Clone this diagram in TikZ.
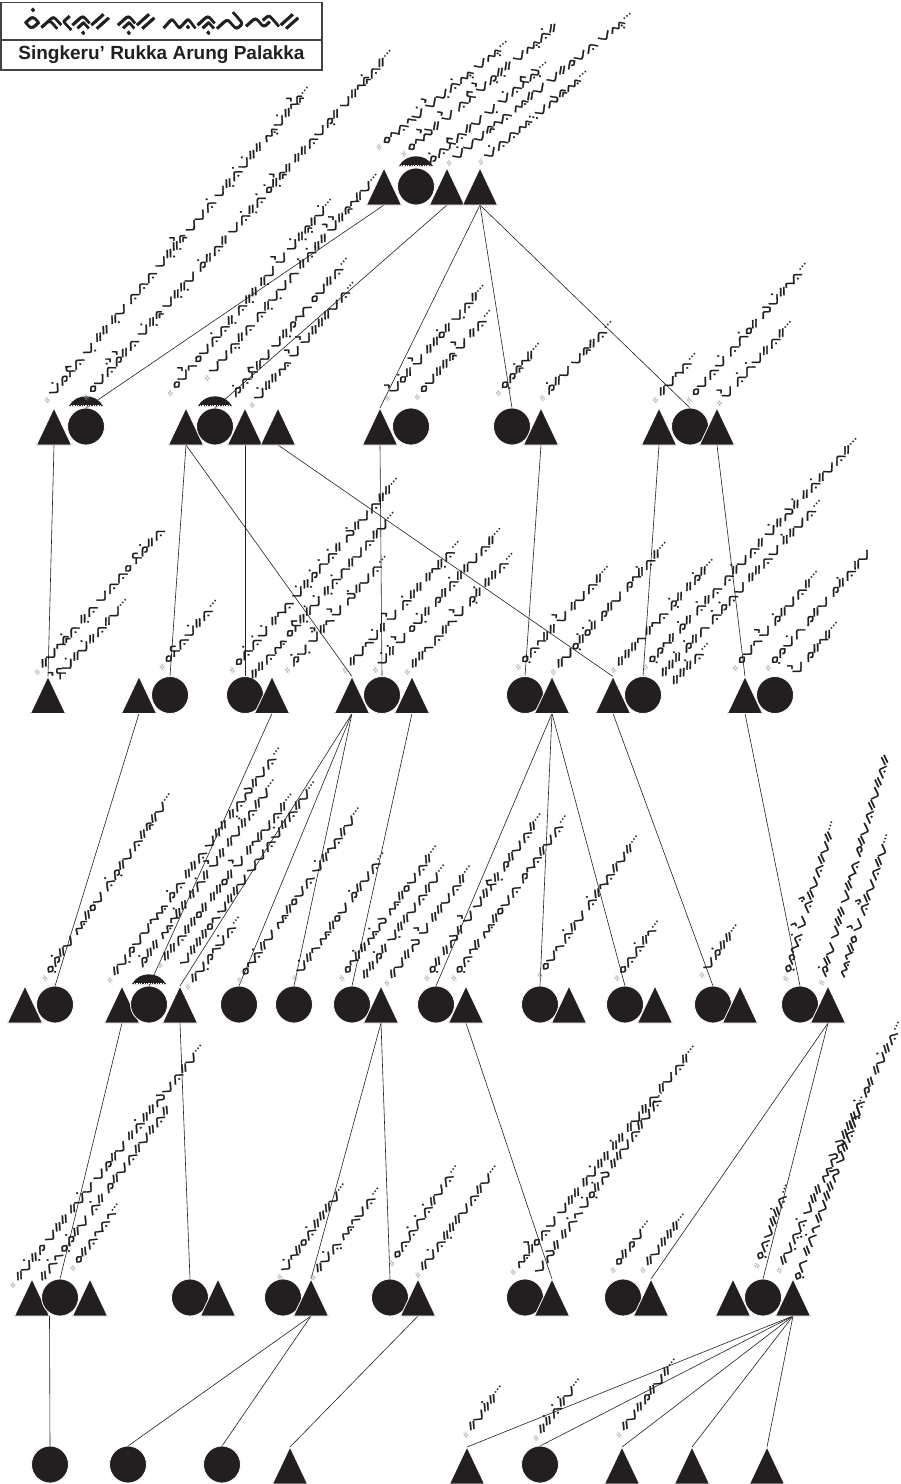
\documentclass[tikz,border=0pt]{standalone}
\usepackage{fontspec}
\setmainfont{Liberation Sans}
\IfFontExistsTF{Noto Sans Buginese}{\newfontfamily\bugfont[FakeBold=2]{Noto Sans Buginese}}{\newfontfamily\bugfont{DejaVu Sans}}
\usetikzlibrary{calc,backgrounds}
\definecolor{shp}{RGB}{35,31,32}
\newcommand\hs{{\normalfont\fontsize{9}{9}\selectfont\color{gray!75}\#}\hspace{4pt}}
\newcommand\el{{\normalfont\bfseries\fontsize{11}{11}\selectfont\raisebox{4pt}{…}}}
\newcommand\hatcap[1]{\fill[shp] ($(#1.north)+(-17,-2)$) .. controls ($(#1.north)+(-10,-15)$) and ($(#1.north)+(10,-15)$) .. ($(#1.north)+(17,-2)$) -- cycle;
  \draw[white,line width=0.7pt,dash pattern=on 1.2pt off 1.2pt] ($(#1.north)+(-15,-2.6)$) -- ($(#1.north)+(15,-2.6)$);}
\tikzset{
  tri/.style={rectangle,inner sep=0pt,outer sep=0pt,minimum width=35pt,minimum height=37pt,
    path picture={\fill[shp,draw=white,line width=0.8pt] (path picture bounding box.south west) -- (path picture bounding box.north) -- (path picture bounding box.south east) -- cycle;}},
  circ/.style={circle,inner sep=0pt,outer sep=0pt,minimum size=37pt,fill=shp,draw=white,line width=0.8pt},
  conn/.style={draw=shp,line width=0.6pt},
  lbl/.style={anchor=base west,inner sep=0pt,outer sep=0pt,text=shp,font=\bugfont\fontsize{14.5}{14.5}\selectfont},
  ttlbox/.style={draw=shp!85,line width=1.4pt,inner sep=0pt,minimum width=321pt,text=shp}
}
\begin{document}
\begin{tikzpicture}[x=1pt,y=-1pt]
\useasboundingbox (0,0) rectangle (901,1484);
% title
\node[ttlbox,minimum height=37.5pt,font=\bugfont\fontsize{28}{28}\selectfont] (ttla) at (161.5,21.25) {ᨔᨗᨃᨙᨑᨘᨀ ᨑᨘᨀ ᨕᨑᨘᨄᨒᨀ};
\node[ttlbox,minimum height=30pt,font=\bfseries\fontsize{19}{19}\selectfont] (ttlb) at (161.5,55) {Singkeru’ Rukka Arung Palakka};
% generation 0
\node[tri] (a0) at (384,186.5) {};
\node[circ] (b0) at (416,186.5) {};
\node[tri] (c0) at (447,186.5) {};
\node[tri] (d0) at (480,186.5) {};
% generation 1
\node[tri] (a1) at (54,426.5) {};
\node[circ] (b1) at (86,426.5) {};
\node[tri] (c1) at (186,426.5) {};
\node[circ] (d1) at (215,426.5) {};
\node[tri] (e1) at (245,426.5) {};
\node[tri] (f1) at (278,426.5) {};
\node[tri] (g1) at (380,426.5) {};
\node[circ] (h1) at (411,426.5) {};
\node[circ] (i1) at (512,426.5) {};
\node[tri] (j1) at (541,426.5) {};
\node[tri] (k1) at (659,426.5) {};
\node[circ] (l1) at (690,426.5) {};
\node[tri] (m1) at (717,426.5) {};
% generation 2
\node[tri] (a2) at (48,695) {};
\node[tri] (b2) at (139,695) {};
\node[circ] (c2) at (170,695) {};
\node[circ] (d2) at (245,695) {};
\node[tri] (e2) at (272,695) {};
\node[tri] (f2) at (352,695) {};
\node[circ] (g2) at (382,695) {};
\node[tri] (h2) at (412,695) {};
\node[circ] (i2) at (525,695) {};
\node[tri] (j2) at (552,695) {};
\node[tri] (k2) at (613,695) {};
\node[circ] (l2) at (643,695) {};
\node[tri] (m2) at (745,695) {};
\node[circ] (n2) at (775,695) {};
% generation 3
\node[tri] (a3) at (25,1004.5) {};
\node[circ] (b3) at (55,1004.5) {};
\node[tri] (c3) at (122,1004.5) {};
\node[circ] (d3) at (149,1004.5) {};
\node[tri] (e3) at (180,1004.5) {};
\node[circ] (f3) at (239,1004.5) {};
\node[circ] (g3) at (294,1004.5) {};
\node[circ] (h3) at (352,1004.5) {};
\node[tri] (i3) at (381,1004.5) {};
\node[circ] (j3) at (436,1004.5) {};
\node[tri] (k3) at (466,1004.5) {};
\node[circ] (l3) at (540,1004.5) {};
\node[tri] (m3) at (569,1004.5) {};
\node[circ] (n3) at (625,1004.5) {};
\node[tri] (o3) at (655,1004.5) {};
\node[circ] (p3) at (713,1004.5) {};
\node[tri] (q3) at (740,1004.5) {};
\node[circ] (r3) at (800,1004.5) {};
\node[tri] (s3) at (828,1004.5) {};
% generation 4
\node[tri] (a4) at (32,1297.5) {};
\node[circ] (b4) at (60,1297.5) {};
\node[tri] (c4) at (90,1297.5) {};
\node[circ] (d4) at (190,1297.5) {};
\node[tri] (e4) at (218,1297.5) {};
\node[circ] (f4) at (283,1297.5) {};
\node[tri] (g4) at (311,1297.5) {};
\node[circ] (h4) at (390,1297.5) {};
\node[tri] (i4) at (418,1297.5) {};
\node[circ] (j4) at (525,1297.5) {};
\node[tri] (k4) at (552,1297.5) {};
\node[circ] (l4) at (623,1297.5) {};
\node[tri] (m4) at (651,1297.5) {};
\node[tri] (n4) at (733,1297.5) {};
\node[circ] (o4) at (763,1297.5) {};
\node[tri] (p4) at (793,1297.5) {};
% generation 5
\node[circ] (a5) at (50,1464.5) {};
\node[circ] (b5) at (128,1464.5) {};
\node[circ] (c5) at (222,1464.5) {};
\node[tri] (d5) at (290,1465.5) {};
\node[tri] (e5) at (467,1465.5) {};
\node[circ] (f5) at (540,1464.5) {};
\node[tri] (g5) at (622,1465.5) {};
\node[tri] (h5) at (692,1465.5) {};
\node[tri] (i5) at (767,1465.5) {};
% caps
\hatcap{b0}\hatcap{b1}\hatcap{d1}\hatcap{d3}
% connectors
\begin{pgfonlayer}{background}
\fill[white] (0,0) rectangle (901,1484);
\draw[conn] (a0.south) -- (b1.north);
\draw[conn] (c0.south) -- (d1.north);
\draw[conn] (d0.south) -- (g1.north);
\draw[conn] (d0.south) -- (i1.north);
\draw[conn] (d0.south) -- (l1.north);
\draw[conn] (a1.south) -- (a2.north);
\draw[conn] (c1.south) -- (c2.north);
\draw[conn] (c1.south) -- (f2.north);
\draw[conn] (e1.south) -- (d2.north);
\draw[conn] (f1.south) -- (k2.north);
\draw[conn] (g1.south) -- (g2.north);
\draw[conn] (j1.south) -- (i2.north);
\draw[conn] (k1.south) -- (l2.north);
\draw[conn] (m1.south) -- (m2.north);
\draw[conn] (b2.south) -- (b3.north);
\draw[conn] (e2.south) -- (d3.north);
\draw[conn] (f2.south) -- (e3.north);
\draw[conn] (f2.south) -- (f3.north);
\draw[conn] (f2.south) -- (g3.north);
\draw[conn] (h2.south) -- (h3.north);
\draw[conn] (j2.south) -- (j3.north);
\draw[conn] (j2.south) -- (l3.north);
\draw[conn] (j2.south) -- (n3.north);
\draw[conn] (k2.south) -- (p3.north);
\draw[conn] (m2.south) -- (r3.north);
\draw[conn] (c3.south) -- (b4.north);
\draw[conn] (e3.south) -- (d4.north);
\draw[conn] (i3.south) -- (g4.north);
\draw[conn] (i3.south) -- (h4.north);
\draw[conn] (k3.south) -- (k4.north);
\draw[conn] (s3.south) -- (m4.north);
\draw[conn] (s3.south) -- (o4.north);
\draw[conn] (a4.south east) -- (a5.north);
\draw[conn] (g4.south) -- (b5.north);
\draw[conn] (g4.south) -- (c5.north);
\draw[conn] (i4.south) -- (d5.north);
\draw[conn] (p4.south) -- (e5.north);
\draw[conn] (p4.south) -- (f5.north);
\draw[conn] (p4.south) -- (g5.north);
\draw[conn] (p4.south) -- (h5.north);
\draw[conn] (p4.south) -- (i5.north);
\end{pgfonlayer}
% labels generation 0
\node[lbl,rotate=39] (t1) at (379,151) {\hs ᨔᨚᨊᨚᨆᨗ ᨆᨛᨆᨘᨊᨗᨕᨘ ᨆᨕᨘ\el};
\node[lbl,rotate=40] (t2) at (404,158) {\hs ᨔᨚᨄᨛᨀ ᨆᨛ ᨊᨅᨗ ᨆᨛᨍᨘᨀᨘᨀ ᨆᨕᨘᨊᨗᨀ};
\node[lbl,rotate=40] (t3) at (430,166) {ᨍᨗᨊᨅᨗᨊᨀᨆ ᨆᨘ ᨆᨗᨊᨅᨗᨁᨘ\el};
\node[lbl,rotate=39] (t4) at (449,167) {\hs ᨆᨗᨆᨆᨑᨚᨊ ᨕᨀᨆ ᨆᨀᨍᨆᨊ ᨆᨕᨘ\el};
\node[lbl,rotate=40] (t5) at (481,166) {\hs ᨆᨗᨊᨊᨕ᨞ᨆᨄᨑᨕ\el};
% generation 1
\node[lbl,rotate=50] (t6) at (48,404) {\hs ᨆᨗᨍᨅᨗᨊ ᨆᨘ ᨀᨀ ᨀᨘᨆ ᨊᨊᨊ ᨆᨀᨘᨀᨘᨑᨛ ᨆᨆᨊᨗ ᨆᨀᨘᨊᨗᨆᨗᨀᨀ ᨕᨘᨆᨗᨀᨚᨑᨛ\el};
\node[lbl,rotate=48.5] (t7) at (87,401) {\hs ᨔᨆᨊᨗᨍᨛᨀᨛᨊ ᨆᨗᨀᨘᨑ ᨆᨀᨘᨀᨘᨆ ᨍᨗᨀᨊᨀ ᨆᨊᨗᨀᨘᨊᨗ ᨔᨗᨀᨘᨑᨛᨀ ᨀᨀᨊᨆᨍᨘᨀ ᨆᨀᨚᨑᨗᨊᨀ\el};
\node[lbl,rotate=50] (t8) at (171,397) {\hs ᨔᨆᨚᨛ ᨔᨆᨊᨗᨊᨀᨘ ᨊᨀᨘᨀ ᨀᨘᨆ ᨆᨛ ᨆᨗᨀᨘᨑᨘᨀᨆᨗ\el};
\node[lbl,rotate=50] (t9) at (208,382) {\hs ᨆᨆᨊᨘᨀᨊ ᨊᨀᨘᨆᨘᨆᨈ ᨀᨗᨊᨗᨀᨀ ᨆᨛᨀᨛᨑᨚᨀᨆ\el};
\node[lbl,rotate=50] (t10) at (236,398) {ᨍᨗᨊᨅᨗᨀᨆ ᨆᨀᨘᨍᨚᨈ ᨔᨆᨀᨊ\el};
\node[lbl,rotate=50] (t11) at (253,409) {\hs ᨆᨗᨀᨀᨕ ᨆᨛ ᨆᨛᨀᨀᨀᨆᨊ\el};
\node[lbl,rotate=49] (t12) at (388,402) {\hs ᨆᨛᨔᨗᨀ ᨆᨛ ᨀᨀᨔᨗᨀ ᨆᨘᨊᨀ\el};
\node[lbl,rotate=49] (t13) at (418,401) {\hs ᨔᨆᨀᨀᨑ ᨆᨛ ᨀᨊ\el};
\node[lbl,rotate=49] (t14) at (499,397) {\hs ᨔᨘᨍᨑᨗᨚᨀ\el};
\node[lbl,rotate=47] (t15) at (543,402) {\hs ᨍᨗᨀᨆ ᨆᨑᨀᨊ\el};
\node[lbl,rotate=48] (t16) at (656,404) {\hs ᨀᨆᨚᨊ\el};
\node[lbl,rotate=49] (t17) at (690,404) {\hs ᨔᨆᨊᨆᨗ ᨊᨈᨗᨔᨀ ᨄᨆᨗᨀᨚᨊ\el};
\node[lbl,rotate=48] (t18) at (720,407) {\hs ᨆᨛ ᨊᨗᨈᨗᨆᨀᨊᨀ\el};
% generation 2
\node[lbl,rotate=48.6] (t19) at (38,676) {\hs ᨀᨆᨚᨑᨗᨊ ᨀᨘᨊ ᨆᨊᨊᨔ ᨅᨍᨗᨀᨊ};
\node[lbl,rotate=48] (t20) at (60,680) {ᨅᨛᨆᨗᨀᨆᨗᨀᨊᨀᨆ\el};
\node[lbl,rotate=50] (t21) at (163,671) {\hs ᨔᨅᨊᨆᨗᨀᨊ\el};
\node[lbl,rotate=49] (t22) at (233,674) {\hs ᨔᨊᨗᨊᨗᨆᨗ ᨀᨚᨊ ᨆᨗᨀᨘᨍᨗᨈᨗᨊᨗᨀ ᨄᨗᨀᨆᨊᨀᨀ\el};
\node[lbl,rotate=49] (t23) at (254,680) {ᨀᨀᨊᨕ ᨔᨅᨗᨀᨘᨀᨗᨆᨗ ᨀᨘᨊᨗᨈᨀᨆᨊᨀᨆ\el};
\node[lbl,rotate=48.6] (t24) at (288,674) {\hs ᨍᨗᨆᨘ ᨆᨗᨀᨛᨚ ᨆᨛ ᨄᨗᨀᨆᨊ\el};
\node[lbl,rotate=48] (t25) at (346,674) {\hs ᨀᨆᨚᨆᨗᨀ ᨆᨛ ᨊᨗᨀᨀ ᨀᨚᨀᨘᨊ\el};
\node[lbl,rotate=48] (t26) at (376,674) {\hs ᨆᨗᨀᨗ ᨆᨛ ᨔᨆᨘᨗᨀ ᨍᨀᨊᨗᨀᨀᨆᨊᨀ\el};
\node[lbl,rotate=48] (t27) at (408,676) {\hs ᨀᨀᨚ ᨊᨀᨚ ᨆᨛ ᨍᨘᨀᨗ ᨀᨀᨊ\el};
\node[lbl,rotate=47.5] (t28) at (519,671) {\hs ᨔᨘᨊᨚᨀᨀ ᨆᨛ ᨀᨆᨊᨀ\el};
\node[lbl,rotate=48.6] (t29) at (554,676) {\hs ᨀᨆᨔᨘᨀᨗᨔᨗᨀᨗ ᨍᨀᨆ ᨍᨚᨀᨗᨊᨀ\el};
\node[lbl,rotate=47.5] (t30) at (614,674) {\hs ᨀᨀᨀᨚ ᨀᨚᨊ ᨍᨘᨗᨀ ᨀᨍᨗᨀ\el};
\node[lbl,rotate=47] (t31) at (646,671) {\hs ᨔᨘᨍᨚᨀ ᨍᨗᨀ ᨊᨗᨀᨊ ᨊᨀᨗᨆᨊᨀ ᨆᨗᨀᨄᨀᨗ ᨀᨊᨗᨀᨆᨊᨀ\el};
\node[lbl,rotate=47.5] (t32) at (664,678) {ᨀᨀᨀᨗ ᨍᨗᨀᨈ ᨊᨗᨍᨗᨊᨆ ᨀᨀᨊᨆ ᨀᨗᨀᨆᨊ\el};
\node[lbl,rotate=47] (t33) at (675,686) {ᨀᨀᨀᨗᨊ\el};
\node[lbl,rotate=49] (t34) at (736,672) {\hs ᨔᨆᨚ ᨆᨛ ᨍᨗᨀᨆᨊᨀ\el};
\node[lbl,rotate=49] (t35) at (769,672) {\hs ᨔᨘᨍᨆᨗᨈ ᨍᨀᨆ ᨍᨀᨗᨊᨀᨆ};
\node[lbl,rotate=49] (t36) at (797,676) {ᨆᨛ ᨍᨀᨚᨀ\el};
% generation 3
\node[lbl,rotate=55.5] (t37) at (46,982) {\hs ᨔᨘᨍᨗᨀᨆ ᨕᨀᨔᨆ ᨊᨗᨍᨘᨀᨆᨊᨀᨑᨀᨆ\el};
\node[lbl,rotate=53.6] (t38) at (111,984) {\hs ᨀᨆᨘᨍᨆᨆᨚᨕ ᨍᨗᨊ ᨀᨀᨊ ᨆᨀᨀ ᨀᨘᨊᨄᨀᨆᨊ\el};
\node[lbl,rotate=54] (t39) at (143,968) {ᨍᨗᨀᨀ ᨕᨚᨀᨗᨀ ᨀᨈᨗᨀ ᨆᨛᨀ ᨀᨆᨀᨗᨊᨀᨆ\el};
\node[lbl,rotate=52] (t40) at (161,969) {\hs ᨀᨀᨊᨀᨀᨔᨀ ᨀᨀᨔᨀ ᨆᨛ ᨀᨚᨀᨆᨊᨀ\el};
\node[lbl,rotate=54] (t41) at (185,967) {ᨆᨀᨀᨀᨔᨚ ᨆᨀᨀᨆ ᨆᨆᨊᨆᨗᨀᨊᨀᨆ\el};
\node[lbl,rotate=53] (t42) at (189,991) {\hs ᨀᨆᨘᨍᨚᨆᨗᨊ\el};
\node[lbl,rotate=55] (t43) at (241,984) {\hs ᨔᨚᨊᨗᨀᨆ ᨕᨀᨔᨆᨊ ᨆᨗᨀᨚᨊᨀᨆ\el};
\node[lbl,rotate=54.3] (t44) at (296,982) {\hs ᨆᨗᨀᨚ ᨕᨀᨔᨆ ᨍᨗᨀᨆᨊ\el};
\node[lbl,rotate=54] (t45) at (343,982) {\hs ᨔᨚᨀᨗᨀᨕᨗᨄ ᨕᨀᨔᨆᨊᨀ\el};
\node[lbl,rotate=54] (t46) at (366,980) {ᨀᨀᨍᨗᨀ ᨆᨘᨀᨀᨆᨊᨀᨆ\el};
\node[lbl,rotate=54] (t47) at (388,987) {\hs ᨀᨆᨀᨄ ᨆᨛ ᨀᨀᨆᨊᨀ\el};
\node[lbl,rotate=55] (t48) at (428,982) {\hs ᨔᨘᨀ ᨀᨄᨀ ᨆᨛ ᨆᨀᨅᨗᨀᨘ ᨍᨀᨆᨊᨀ\el};
\node[lbl,rotate=55] (t49) at (455,982) {\hs ᨔᨘᨊᨚᨀ ᨕᨀᨔᨆᨊ ᨍᨚᨊᨀᨆᨊ\el};
\node[lbl,rotate=54.6] (t50) at (541,979) {\hs ᨔᨆᨚ ᨊᨗᨀᨆ ᨊᨗᨀᨚᨊᨀᨆᨀ\el};
\node[lbl,rotate=53] (t51) at (618,982) {\hs ᨔᨊᨊᨗᨀᨚ\el};
\node[lbl,rotate=54.3] (t52) at (703,979) {\hs ᨆᨍᨗᨀᨀ\el};
\node[lbl,rotate=73] (t53) at (788,982) {\hs ᨔᨘᨍᨚᨊᨗ ᨆᨛ ᨊᨗᨀᨛᨆᨊᨀᨆᨀ\el};
\node[lbl,rotate=74] (t54) at (824,986) {\hs ᨍᨗᨀᨆ ᨆᨀᨀ ᨆᨀᨚᨊ ᨍᨀᨆᨊᨀᨆᨀᨊᨀ};
\node[lbl,rotate=72] (t55) at (845,978) {ᨕᨚᨀᨔ ᨆᨛ ᨊᨗᨀᨛᨆᨊᨀᨆ\el};
% generation 4
\node[lbl,rotate=51.6] (t56) at (14,1289) {\hs ᨀᨆᨗᨀᨘᨍ ᨆᨀᨀ ᨀᨆᨗᨆ ᨆᨍᨀᨆ ᨀᨊᨗᨀᨀᨄᨆᨊᨀᨆ\el};
\node[lbl,rotate=53.6] (t57) at (44,1282) {ᨀᨈᨗᨚ ᨔᨘᨍᨗᨀᨆ ᨊᨗᨀ ᨍᨀᨆᨊᨀᨆᨀᨊᨀ};
\node[lbl,rotate=54] (t58) at (74,1272) {\hs ᨔᨀᨊᨚᨊᨚ\el};
\node[lbl,rotate=55] (t59) at (281,1281) {\hs ᨆᨗᨚᨀᨔᨊᨗᨀᨀᨀᨆ\el};
\node[lbl,rotate=53] (t60) at (314,1281) {\hs ᨀᨆᨗᨊᨘ ᨕᨚᨆᨊ\el};
\node[lbl,rotate=56] (t61) at (393,1267) {\hs ᨔᨊᨊᨗᨈᨗᨊᨗᨀᨆᨊ\el};
\node[lbl,rotate=54] (t62) at (419,1279) {\hs ᨀᨆᨗᨊᨀᨘᨀᨀᨆᨊᨀᨆ\el};
\node[lbl,rotate=51] (t63) at (514,1276) {\hs ᨕᨀᨔᨛᨊᨆ ᨆᨀᨀ ᨀᨆᨗᨀᨀ ᨀᨗᨀ ᨀᨆᨀᨊ ᨀᨆᨊᨀ\el};
\node[lbl,rotate=55] (t64) at (540,1275) {ᨆᨄᨀ ᨀᨈᨗᨚ ᨆᨗᨔᨘᨀᨗᨄ ᨀᨀᨆᨊᨀᨆᨊ\el};
\node[lbl,rotate=53] (t65) at (614,1274) {\hs ᨔᨀᨍᨆ\el};
\node[lbl,rotate=53] (t66) at (644,1274) {\hs ᨀᨆᨀᨀᨀ\el};
\node[lbl,rotate=69] (t67) at (759,1269) {\hs ᨔᨘᨊᨆᨀᨀᨗᨊ\el};
\node[lbl,rotate=64] (t68) at (781,1274) {\hs ᨀᨆᨘᨊᨘᨊᨗ ᨆᨀᨀ ᨕᨄᨄᨀᨀᨀᨘᨊᨗ ᨍᨀ ᨀᨆᨗᨀᨊ\el};
\node[lbl,rotate=70] (t69) at (800,1281) {ᨔᨘᨈ ᨀᨈᨗᨚ ᨀᨆᨀᨀᨄ ᨆᨀᨊᨀᨆ\el};
% generation 5
\node[lbl,rotate=53] (t70) at (467,1439) {\hs ᨀᨆᨀᨗᨀ\el};
\node[lbl,rotate=53] (t71) at (537,1442) {\hs ᨀᨀᨗᨊᨗᨀᨗᨆ\el};
\node[lbl,rotate=53] (t72) at (620,1439) {\hs ᨀᨆᨀᨍᨀᨆᨀ\el};
\end{tikzpicture}
\end{document}
